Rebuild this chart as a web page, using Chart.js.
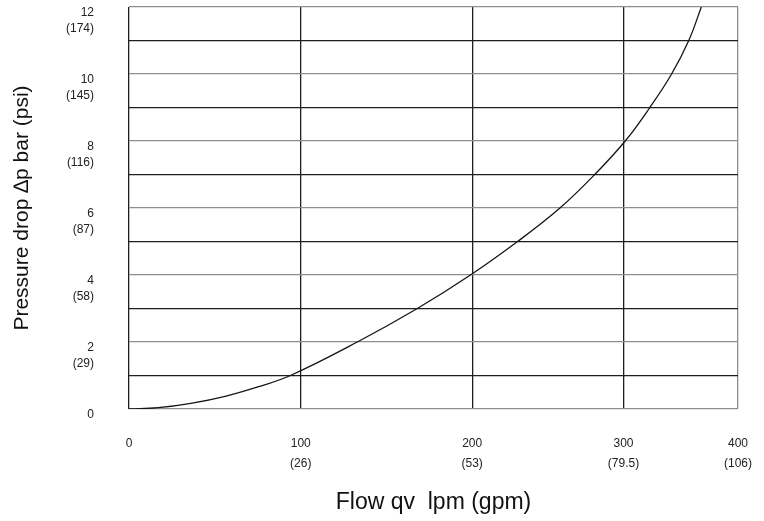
<!DOCTYPE html>
<html>
<head>
<meta charset="utf-8">
<title>Pressure drop vs flow</title>
<script src="https://cdn.jsdelivr.net/npm/chart.js@4.4.1/dist/chart.umd.min.js"></script>
<style>
    body { margin: 0; background: #fff; }
    #wrap { width: 764px; height: 521px; }
</style>
</head>
<body>
<div id="wrap"><canvas id="dropChart" width="764" height="521"></canvas></div>
<script>
// Curve (flow in lpm, pressure drop in bar)
const flowLpm = [0, 17, 36, 56, 75, 94, 133, 168, 199, 230, 258, 281, 301.5, 323, 342, 357, 368];
const dropBar = [0, 0.04, 0.17, 0.38, 0.66, 1.0, 2.0, 3.0, 4.0, 5.0, 6.0, 7.0, 8.0, 9.0, 10.0, 11.0, 12.0];

// Tick labels
const xTickLpm = [0, 100, 200, 300, 400];
const xTickGpm = ['', '(26)', '(53)', '(79.5)', '(106)'];
const yTickBar = [0, 2, 4, 6, 8, 10, 12];
const yTickPsi = ['', '(29)', '(58)', '(87)', '(116)', '(145)', '(174)'];

// The printed flow axis is not evenly spaced: where each 100 lpm step sits across the plot
const xBreakFractions = [0, 0.282, 0.5635, 0.812, 1];

const GRID_DARK = '#1e1e1e';
const GRID_GRAY = '#8e8e8e';
const FONT = '"Liberation Sans", Arial, sans-serif';

function flowToFraction(v) {
    const b = xTickLpm;
    if (v <= b[0]) return xBreakFractions[0] + (v - b[0]) / (b[1] - b[0]) * (xBreakFractions[1] - xBreakFractions[0]);
    for (let i = 1; i < b.length; i++) {
        if (v <= b[i] || i === b.length - 1) {
            const t = (v - b[i - 1]) / (b[i] - b[i - 1]);
            return xBreakFractions[i - 1] + t * (xBreakFractions[i] - xBreakFractions[i - 1]);
        }
    }
}

function fractionToFlow(f) {
    for (let i = 1; i < xBreakFractions.length; i++) {
        if (f <= xBreakFractions[i] || i === xBreakFractions.length - 1) {
            const t = (f - xBreakFractions[i - 1]) / (xBreakFractions[i] - xBreakFractions[i - 1]);
            return xTickLpm[i - 1] + t * (xTickLpm[i] - xTickLpm[i - 1]);
        }
    }
}

// Linear scale with a piecewise mapping, so the gridlines land where the printed chart has them
class PiecewiseLinearScale extends Chart.LinearScale {
    getPixelForValue(value) {
        if (value === null || isNaN(value)) return NaN;
        return this.getPixelForDecimal(flowToFraction(value));
    }
    getValueForPixel(pixel) {
        return fractionToFlow(this.getDecimalForPixel(pixel));
    }
}
PiecewiseLinearScale.id = 'piecewiseLinear';
PiecewiseLinearScale.defaults = Chart.LinearScale.defaults;
Chart.register(PiecewiseLinearScale);

const points = flowLpm.map((x, i) => ({ x: x, y: dropBar[i] }));

const ctx = document.getElementById('dropChart').getContext('2d');
new Chart(ctx, {
    type: 'line',
    data: {
        datasets: [{
            data: points,
            borderColor: '#151515',
            borderWidth: 1.3,
            pointRadius: 0,
            fill: false,
            tension: 0.4
        }]
    },
    options: {
        responsive: false,
        animation: false,
        layout: { padding: { left: 0, top: 7, right: 26, bottom: 0 } },
        plugins: {
            legend: { display: false },
            tooltip: { enabled: false }
        },
        scales: {
            x: {
                type: 'piecewiseLinear',
                min: 0,
                max: 400,
                border: { display: false },
                grid: {
                    drawTicks: false,
                    lineWidth: 1.3,
                    color: (c) => (c.tick && c.tick.value === 400) ? GRID_GRAY : GRID_DARK
                },
                ticks: {
                    stepSize: 100,
                    autoSkip: false,
                    maxRotation: 0,
                    padding: 25,
                    color: '#222',
                    font: { family: FONT, size: 12, lineHeight: 1.65 },
                    callback: function(value) {
                        const i = xTickLpm.indexOf(value);
                        if (i < 0) return '';
                        return xTickGpm[i] ? [String(value), xTickGpm[i]] : String(value);
                    }
                },
                title: {
                    display: true,
                    text: 'Flow qv  lpm (gpm)',
                    color: '#111',
                    font: { family: FONT, size: 23 },
                    padding: { top: 0, bottom: 5 }
                },
                afterFit: function(scale) {
                    scale.height = 112;
                    scale.paddingLeft = 0;
                    scale.paddingRight = 0;
                }
            },
            y: {
                min: 0,
                max: 12,
                border: { display: false },
                grid: {
                    drawTicks: false,
                    lineWidth: 1.3,
                    color: (c) => (c.tick && c.tick.value % 2 === 0) ? GRID_GRAY : GRID_DARK
                },
                ticks: {
                    stepSize: 1,
                    autoSkip: false,
                    padding: 35,
                    labelOffset: 14,
                    color: '#222',
                    font: { family: FONT, size: 12, lineHeight: 1.35 },
                    callback: function(value) {
                        const i = yTickBar.indexOf(value);
                        if (i < 0) return '';
                        return [String(value), yTickPsi[i]];
                    }
                },
                title: {
                    display: true,
                    text: 'Pressure drop \u2206p bar (psi)',
                    color: '#111',
                    font: { family: FONT, size: 21 },
                    padding: { top: 10, bottom: 0 }
                },
                afterFit: function(scale) {
                    scale.width = 129;
                    scale.paddingTop = 0;
                    scale.paddingBottom = 0;
                }
            }
        }
    }
});
</script>
</body>
</html>
